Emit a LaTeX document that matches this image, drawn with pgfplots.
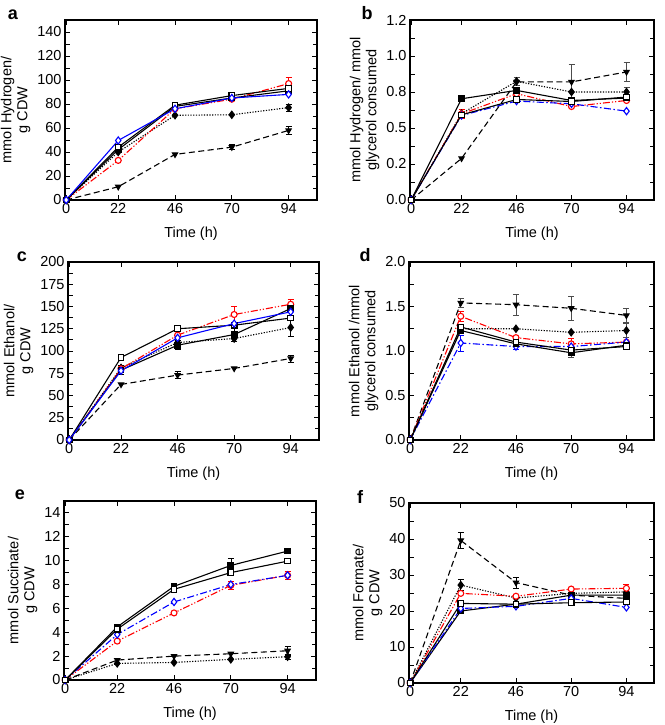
\documentclass[border=0pt]{standalone}
\usepackage{fontspec}
\setmainfont{Liberation Sans}
\usepackage{pgfplots}
\pgfplotsset{compat=1.18}
\pgfplotsset{
  panel/.style={scale only axis, xmin=-0.5, xmax=106, ymin=0,
    xtick={0,22,46,70,94}, tick align=inside, tick pos=both,
    minor y tick num=1,
    major tick length=5pt, minor tick length=4.5pt, axis line style={line width=1.1pt},
    every tick/.style={black, line width=0.9pt},
    every minor tick/.style={black, line width=0.8pt},
    tick label style={font=\fontsize{14.5}{16}\selectfont},
    label style={font=\fontsize{14.5}{16}\selectfont},
    xlabel={Time (h)}, ylabel style={align=center},
    xlabel style={yshift=-6pt},
    /pgf/number format/assume math mode=true, clip=false},
  s1/.style={black, line width=1.1pt, mark=square*, mark size=2.8pt, mark options={solid, fill=black}},
  s2/.style={black, line width=1.1pt, mark=square*, mark size=2.8pt, mark options={solid, fill=white}},
  s3/.style={blue, line width=1.1pt, mark=diamond*, mark size=3.6pt, mark options={solid, fill=white}},
  s3d/.style={s3, dash pattern=on 7pt off 2.5pt on 1.5pt off 2.5pt},
  s4/.style={red, line width=1.1pt, mark=*, mark size=3pt, mark options={solid, fill=white},
     dash pattern=on 7pt off 2pt on 1.2pt off 2pt on 1.2pt off 2pt},
  s5/.style={black, line width=1.1pt, mark=diamond*, mark size=3.6pt, mark options={solid, fill=black},
     dash pattern=on 1.2pt off 1.5pt},
  s6/.style={black, line width=1.1pt, mark=triangle*, mark size=3pt, mark options={solid, fill=black, rotate=180},
     dash pattern=on 6pt off 3.5pt},
  eb/.style={forget plot, draw=none, mark=none,
     error bars/.cd, y dir=both, y explicit,
     error bar style={draw=#1, solid, line width=0.6pt},
     error mark options={draw=#1, rotate=90, mark size=3pt, line width=0.6pt, solid}},
}
\begin{document}
\begin{tikzpicture}
% ---------------- a ----------------
\begin{axis}[panel, at={(65pt,525pt)}, anchor=south west, width=252pt, height=180pt,
  ymax=150, ytick={0,20,...,140}, ylabel={mmol Hydrogen/\\g CDW}]
\addplot[eb=red] coordinates {(94,97) +- (0,5)};
\addplot[eb=black] coordinates {(94,77) +- (0,3) (70,44) +- (0,2) (94,58) +- (0,3)};
\addplot[s5] coordinates {(0,0) (22,40) (46,70.6) (70,71) (94,77)};
\addplot[s6] coordinates {(0,0) (22,11) (46,38) (70,44) (94,58)};
\addplot[s4] coordinates {(0,0) (22,33) (46,76) (70,84) (94,97)};
\addplot[s1] coordinates {(0,0) (22,42) (46,78) (70,85) (94,91)};
\addplot[s2] coordinates {(0,0) (22,44) (46,79) (70,87) (94,93)};
\addplot[s3] coordinates {(0,0) (22,49.6) (46,76) (70,85) (94,88)};
\end{axis}
% ---------------- b ----------------
\begin{axis}[panel, at={(410pt,525pt)}, anchor=south west, width=244pt, height=180pt,
  ymax=1.25, ytick={0,0.25,0.5,0.75,1,1.25}, yticklabels={0.0,0.2,0.5,0.8,1.0,1.2},
  ylabel={mmol Hydrogen/ mmol\\glycerol consumed}]
\addplot[eb=red] coordinates {(22,0.598) +- (0,0.03)};
\addplot[eb=black!70] coordinates {(22,0.703) +- (0,0.02) (46,0.824) +- (0,0.03) (94,0.75) +- (0,0.03)
   (70,0.82) +- (0,0.12) (94,0.889) +- (0,0.065) (46,0.70) +- (0,0.02)};
\addplot[s6] coordinates {(0,0) (22,0.289) (46,0.82) (70,0.82) (94,0.889)};
\addplot[s5] coordinates {(0,0) (22,0.60) (46,0.824) (70,0.75) (94,0.75)};
\addplot[s4] coordinates {(0,0) (22,0.598) (46,0.738) (70,0.649) (94,0.691)};
\addplot[s3d] coordinates {(0,0) (22,0.587) (46,0.687) (70,0.668) (94,0.617)};
\addplot[s1] coordinates {(0,0) (22,0.703) (46,0.761) (70,0.691) (94,0.708)};
\addplot[s2] coordinates {(0,0) (22,0.591) (46,0.698) (70,0.684) (94,0.715)};
\end{axis}
% ---------------- c ----------------
\begin{axis}[panel, at={(68pt,285pt)}, anchor=south west, width=251pt, height=178pt,
  ymax=200, ytick={0,25,...,200}, ylabel={mmol Ethanol/\\g CDW}]
\addplot[eb=red] coordinates {(70,141) +- (0,9) (94,152.5) +- (0,6)};
\addplot[eb=black] coordinates {(94,126.4) +- (0,10) (46,72.9) +- (0,4) (94,91.6) +- (0,4) (70,118.5) +- (0,8) (46,106.5) +- (0,5) (22,78.5) +- (0,5)};
\addplot[s6] coordinates {(0,0) (22,62.4) (46,72.9) (70,80.4) (94,91.6)};
\addplot[s5] coordinates {(0,0) (22,81) (46,109.5) (70,114) (94,126.4)};
\addplot[s4] coordinates {(0,0) (22,80) (46,117.8) (70,141) (94,152.5)};
\addplot[s1] coordinates {(0,0) (22,78.5) (46,106.5) (70,118.5) (94,147.7)};
\addplot[s2] coordinates {(0,0) (22,92.7) (46,125) (70,129) (94,137)};
\addplot[s3] coordinates {(0,0) (22,77.8) (46,114.8) (70,130.8) (94,144)};
\end{axis}
% ---------------- d ----------------
\begin{axis}[panel, at={(409pt,285pt)}, anchor=south west, width=245pt, height=178pt,
  ymax=2, ytick={0,0.5,...,2}, yticklabel style={/pgf/number format/.cd, fixed, fixed zerofill, precision=1},
  ylabel={mmol Ethanol /mmol\\glycerol consumed}]
\addplot[eb=red] coordinates {(22,1.39) +- (0,0.06) (70,1.08) +- (0,0.06)};
\addplot[eb=blue] coordinates {(22,1.09) +- (0,0.09) (46,1.05) +- (0,0.03)};
\addplot[eb=black!70] coordinates {(22,1.54) +- (0,0.05) (46,1.52) +- (0,0.12) (70,1.48) +- (0,0.14) (94,1.40) +- (0,0.08)
   (70,0.98) +- (0,0.05) (94,1.23) +- (0,0.08)};
\addplot[s6] coordinates {(0,0) (22,1.54) (46,1.52) (70,1.48) (94,1.40)};
\addplot[s5] coordinates {(0,0) (22,1.25) (46,1.25) (70,1.21) (94,1.23)};
\addplot[s4] coordinates {(0,0) (22,1.39) (46,1.15) (70,1.08) (94,1.10)};
\addplot[s3d] coordinates {(0,0) (22,1.09) (46,1.05) (70,1.05) (94,1.10)};
\addplot[s1] coordinates {(0,0) (22,1.23) (46,1.08) (70,0.98) (94,1.065)};
\addplot[s2] coordinates {(0,0) (22,1.27) (46,1.10) (70,1.01) (94,1.05)};
\end{axis}
% ---------------- e ----------------
\begin{axis}[panel, at={(64pt,45pt)}, anchor=south west, width=252pt, height=179pt,
  ymax=15, ytick={0,2,...,14}, ylabel={mmol Succinate/\\g CDW}]
\addplot[eb=red] coordinates {(70,7.93) +- (0,0.3) (94,8.77) +- (0,0.35)};
\addplot[eb=black] coordinates {(70,9.6) +- (0,0.6) (94,2.45) +- (0,0.35) (94,1.95) +- (0,0.2)};
\addplot[s6] coordinates {(0,0) (22,1.67) (46,2.0) (70,2.2) (94,2.45)};
\addplot[s5] coordinates {(0,0) (22,1.39) (46,1.47) (70,1.73) (94,1.95)};
\addplot[s4] coordinates {(0,0) (22,3.26) (46,5.62) (70,7.93) (94,8.77)};
\addplot[s3d] coordinates {(0,0) (22,3.81) (46,6.54) (70,8.0) (94,8.77)};
\addplot[s1] coordinates {(0,0) (22,4.45) (46,7.85) (70,9.6) (94,10.8)};
\addplot[s2] coordinates {(0,0) (22,4.26) (46,7.6) (70,9.0) (94,9.96)};
\end{axis}
% ---------------- f ----------------
\begin{axis}[panel, at={(409pt,42pt)}, anchor=south west, width=245pt, height=180pt,
  ymax=50, ytick={0,10,...,50}, ylabel={mmol Formate/\\g CDW}]
\addplot[eb=red] coordinates {(94,26.3) +- (0,1)};
\addplot[eb=black] coordinates {(22,39.6) +- (0,2.2) (46,27.9) +- (0,1.5) (22,27.2) +- (0,1.5)};
\addplot[s6] coordinates {(0,0) (22,39.6) (46,27.9) (70,24.4) (94,23.5)};
\addplot[s5] coordinates {(0,0) (22,27.2) (46,23.6) (70,24.9) (94,25.3)};
\addplot[s4] coordinates {(0,0) (22,24.9) (46,24.1) (70,26.1) (94,26.3)};
\addplot[s1] coordinates {(0,0) (22,20.0) (46,21.9) (70,24.4) (94,24.4)};
\addplot[s3d] coordinates {(0,0) (22,20.7) (46,21.3) (70,23.5) (94,21.0)};
\addplot[s2] coordinates {(0,0) (22,22.1) (46,21.9) (70,22.3) (94,22.5)};
\end{axis}
% panel letters
\begin{scope}[every node/.style={font=\fontsize{18}{20}\selectfont\bfseries, inner sep=0pt}]
\node at (13pt,710pt) {a};
\node at (367pt,712pt) {b};
\node at (22pt,468pt) {c};
\node at (365pt,470pt) {d};
\node at (20pt,230pt) {e};
\node at (360pt,228pt) {f};
\end{scope}
\pgfresetboundingbox
\useasboundingbox (0,0) rectangle (664pt,725pt);
\end{tikzpicture}
\end{document}
